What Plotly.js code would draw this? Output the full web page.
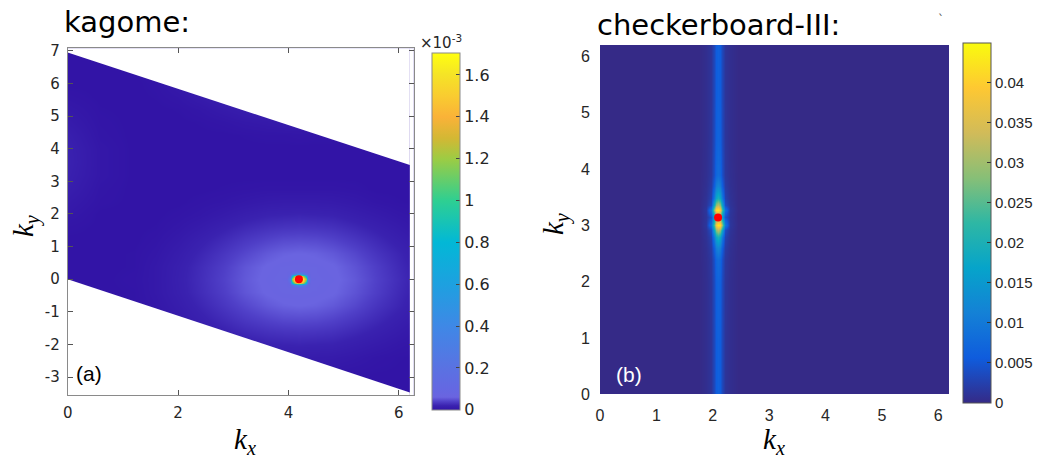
<!DOCTYPE html>
<html>
<head>
<meta charset="utf-8">
<script src="https://cdn.plot.ly/plotly-3.0.1.min.js"></script>
<style>html,body{margin:0;padding:0;background:#fff;}#chart{width:1039px;height:460px;}</style>
</head>
<body>
<div id="chart"></div>
<script>
// ---------------- data ----------------
// (a) kagome: intensity in units of 1e-3
const kagomeKx = [0, 0.6, 1.2, 1.6, 2.0, 2.4, 2.8, 3.2, 3.6, 3.9, 4.19, 4.5, 4.8, 5.2, 5.6, 6.0, 6.4];
const kagomeKy = [-3.8, -3.0, -2.4, -2.0, -1.6, -1.2, -0.8, -0.4, 0, 0.4, 0.8, 1.2, 1.6, 2.0, 2.4, 2.8, 3.2, 3.6, 4.0, 4.4, 4.8, 5.2, 5.6, 6.0, 6.6, 7.2];
const kagomeZ = [
  [0,0,0,0,0,0,0,0,0,0,0,0,0,0,0,0,0],
  [0,0,0,0,0,0,0,0,0.001,0.002,0.002,0.002,0.001,0,0,0,0],
  [0,0,0,0,0,0.002,0.004,0.007,0.010,0.011,0.011,0.011,0.010,0.007,0.003,0.001,0],
  [0,0,0,0,0.002,0.005,0.010,0.016,0.020,0.021,0.022,0.021,0.020,0.015,0.010,0.005,0.002],
  [0,0,0,0.001,0.005,0.011,0.019,0.026,0.031,0.033,0.034,0.033,0.031,0.025,0.018,0.011,0.004],
  [0,0,0,0.003,0.009,0.018,0.027,0.036,0.043,0.047,0.048,0.047,0.043,0.035,0.026,0.017,0.009],
  [0,0,0.001,0.005,0.013,0.023,0.034,0.045,0.055,0.060,0.062,0.060,0.055,0.045,0.033,0.023,0.012],
  [0,0,0.001,0.007,0.016,0.027,0.039,0.053,0.063,0.067,0.068,0.066,0.063,0.052,0.039,0.026,0.015],
  [0,0,0.002,0.007,0.017,0.028,0.041,0.055,0.065,0.069,0.070,0.068,0.065,0.055,0.041,0.028,0.016],
  [0,0,0.001,0.007,0.016,0.027,0.039,0.053,0.063,0.067,0.068,0.066,0.063,0.052,0.039,0.026,0.015],
  [0,0,0.001,0.005,0.013,0.023,0.034,0.045,0.055,0.060,0.062,0.060,0.055,0.045,0.033,0.023,0.012],
  [0,0,0,0.003,0.009,0.018,0.027,0.036,0.043,0.047,0.048,0.047,0.043,0.035,0.026,0.017,0.009],
  [0.002,0,0,0.001,0.005,0.011,0.019,0.026,0.031,0.033,0.034,0.033,0.031,0.025,0.018,0.011,0.004],
  [0.006,0,0,0,0.002,0.005,0.010,0.016,0.020,0.021,0.022,0.021,0.020,0.015,0.010,0.005,0.002],
  [0.010,0.002,0,0,0,0.002,0.004,0.007,0.010,0.011,0.011,0.011,0.010,0.007,0.003,0.001,0],
  [0.015,0.003,0,0,0,0,0.001,0.002,0.003,0.003,0.003,0.003,0.003,0.002,0,0,0],
  [0.018,0.005,0,0,0,0,0,0,0,0,0,0,0,0,0,0,0],
  [0.020,0.005,0,0,0,0,0,0,0,0,0,0,0,0,0,0,0],
  [0.019,0.005,0,0,0,0,0,0,0,0,0,0,0,0,0,0,0],
  [0.016,0.003,0,0,0,0,0,0.001,0.002,0.002,0.003,0.002,0.002,0.001,0,0,0],
  [0.011,0.002,0,0,0,0.001,0.003,0.006,0.008,0.010,0.010,0.010,0.008,0.006,0.003,0.001,0],
  [0.007,0.001,0,0,0.001,0.004,0.009,0.014,0.018,0.020,0.020,0.020,0.018,0.014,0.009,0.004,0.001],
  [0.003,0,0,0.001,0.004,0.010,0.017,0.024,0.029,0.031,0.032,0.031,0.029,0.024,0.017,0.010,0.004],
  [0,0,0,0.002,0.008,0.017,0.026,0.034,0.041,0.045,0.046,0.045,0.041,0.034,0.025,0.016,0.008],
  [0,0,0.001,0.005,0.014,0.025,0.036,0.048,0.059,0.063,0.064,0.063,0.059,0.048,0.036,0.025,0.014],
  [0,0,0.002,0.007,0.017,0.028,0.041,0.055,0.065,0.069,0.070,0.068,0.065,0.055,0.041,0.028,0.016]
];
// sharp peak around the K point (units 1e-3)
const kagomePeakKx = [3.89, 3.98, 4.03, 4.07, 4.11, 4.15, 4.19, 4.23, 4.27, 4.31, 4.35, 4.40, 4.49];
const kagomePeakKy = [-0.34, -0.26, -0.16, -0.10, -0.05, 0, 0.05, 0.10, 0.16, 0.26, 0.34];
const kagomePeakZ = [
  [0.07,0.07,0.07,0.07,0.07,0.07,0.07,0.07,0.07,0.07,0.07,0.07,0.07],
  [0.07,0.07,0.07,0.07,0.07,0.07,0.07,0.07,0.07,0.07,0.07,0.07,0.07],
  [0.07,0.07,0.08,0.18,0.30,0.38,0.40,0.38,0.30,0.18,0.08,0.07,0.07],
  [0.07,0.07,0.12,0.75,1.25,1.45,1.50,1.45,1.25,0.75,0.12,0.07,0.07],
  [0.07,0.07,0.20,1.05,1.58,1.66,1.68,1.66,1.58,1.05,0.20,0.07,0.07],
  [0.07,0.08,0.25,1.20,1.65,1.69,1.70,1.69,1.65,1.20,0.25,0.08,0.07],
  [0.07,0.07,0.20,1.05,1.58,1.66,1.68,1.66,1.58,1.05,0.20,0.07,0.07],
  [0.07,0.07,0.12,0.75,1.25,1.45,1.50,1.45,1.25,0.75,0.12,0.07,0.07],
  [0.07,0.07,0.08,0.18,0.30,0.38,0.40,0.38,0.30,0.18,0.08,0.07,0.07],
  [0.07,0.07,0.07,0.07,0.07,0.07,0.07,0.07,0.07,0.07,0.07,0.07,0.07],
  [0.07,0.07,0.07,0.07,0.07,0.07,0.07,0.07,0.07,0.07,0.07,0.07,0.07]
];
// Brillouin-zone parallelogram edges
const bzEdgeKx = [0, 6.2];
const bzLowerKy = [0, -3.47];
const bzUpperKy = [6.95, 3.5];
const kagomeDotKx = [4.19];
const kagomeDotKy = [0];

// (b) checkerboard-III
const checkerKx = [0, 1.75, 1.88, 1.97, 2.02, 2.055, 2.094, 2.135, 2.17, 2.22, 2.31, 2.44, 6.3];
const checkerKy = [0, 1.0, 2.0, 2.4, 2.6, 2.8, 2.92, 3.0, 3.07, 3.14, 3.21, 3.28, 3.36, 3.48, 3.7, 3.9, 4.5, 5.3, 6.3];
const checkerZ = [
  [0,0,0.0005,0.0012,0.0034,0.0058,0.0065,0.0058,0.0034,0.0012,0.0005,0,0],
  [0,0,0.0005,0.0012,0.0034,0.0058,0.0065,0.0058,0.0034,0.0012,0.0005,0,0],
  [0,0,0.0005,0.0013,0.0036,0.0062,0.0070,0.0062,0.0036,0.0013,0.0005,0,0],
  [0,0,0.0006,0.0015,0.0042,0.0072,0.0082,0.0072,0.0042,0.0015,0.0006,0,0],
  [0,0,0.0007,0.0019,0.0060,0.0105,0.0120,0.0105,0.0060,0.0019,0.0007,0,0],
  [0,0,0.0009,0.0026,0.0100,0.0175,0.0200,0.0175,0.0100,0.0026,0.0009,0,0],
  [0,0,0.0011,0.0040,0.0170,0.0285,0.0320,0.0290,0.0180,0.0040,0.0011,0,0],
  [0,0,0.0014,0.0085,0.0240,0.0390,0.0430,0.0420,0.0290,0.0095,0.0014,0,0],
  [0,0,0.0013,0.0065,0.0200,0.0320,0.0360,0.0340,0.0230,0.0075,0.0013,0,0],
  [0,0,0.0012,0.0045,0.0160,0.0260,0.0300,0.0260,0.0160,0.0045,0.0012,0,0],
  [0,0,0.0013,0.0075,0.0230,0.0340,0.0360,0.0320,0.0200,0.0065,0.0013,0,0],
  [0,0,0.0014,0.0095,0.0290,0.0420,0.0430,0.0390,0.0240,0.0085,0.0014,0,0],
  [0,0,0.0011,0.0040,0.0180,0.0290,0.0320,0.0285,0.0170,0.0040,0.0011,0,0],
  [0,0,0.0009,0.0026,0.0100,0.0175,0.0200,0.0175,0.0100,0.0026,0.0009,0,0],
  [0,0,0.0007,0.0019,0.0060,0.0105,0.0120,0.0105,0.0060,0.0019,0.0007,0,0],
  [0,0,0.0006,0.0015,0.0042,0.0072,0.0082,0.0072,0.0042,0.0015,0.0006,0,0],
  [0,0,0.0005,0.0013,0.0036,0.0062,0.0070,0.0062,0.0036,0.0013,0.0005,0,0],
  [0,0,0.0005,0.0012,0.0034,0.0058,0.0065,0.0058,0.0034,0.0012,0.0005,0,0],
  [0,0,0.0005,0.0012,0.0034,0.0058,0.0065,0.0058,0.0034,0.0012,0.0005,0,0]
];
const checkerDotKx = [2.094];
const checkerDotKy = [3.14];

// ticks
const kagomeXTicks = [0, 2, 4, 6];
const kagomeYTicks = [-3, -2, -1, 0, 1, 2, 3, 4, 5, 6, 7];
const kagomeYLabels = ['-3', '-2', '-1', '0', '1', '2', '3', '4', '5', '6', '7'];
const checkerTicks = [0, 1, 2, 3, 4, 5, 6];
const kagomeCbTicks = [0, 0.2, 0.4, 0.6, 0.8, 1, 1.2, 1.4, 1.6];
const kagomeCbLabels = ['0', '0.2', '0.4', '0.6', '0.8', '1', '1.2', '1.4', '1.6'];
const checkerCbTicks = [0, 0.005, 0.01, 0.015, 0.02, 0.025, 0.03, 0.035, 0.04];
const checkerCbLabels = ['0', '0.005', '0.01', '0.015', '0.02', '0.025', '0.03', '0.035', '0.04'];

// ---------------- styling ----------------
const W = 1039, H = 460;
const kagomeRangeX = [0, 6.27], kagomeRangeY = [-3.55, 7.08];
const checkerRangeX = [0, 6.19], checkerRangeY = [0, 6.2];
const kagomeZmax = 1.706, checkerZmax = 0.045;

const kagomeScale = [
  [0, '#3214a6'], [0.012, '#3a22b0'], [0.024, '#5040c8'], [0.036, '#6a64e0'],
  [0.06, '#6468e2'], [0.117, '#5a72e2'], [0.234, '#3f88e6'], [0.35, '#1ea0e0'],
  [0.47, '#02b8d6'], [0.586, '#2ecf92'], [0.703, '#9ccc44'], [0.76, '#d2b834'],
  [0.82, '#fab238'], [0.88, '#f9cc30'], [0.94, '#f5e426'], [1, '#ffff10']
];
const parula = [
  [0, '#352A87'], [0.125, '#0F5CDD'], [0.25, '#1481D6'], [0.375, '#06A4CA'],
  [0.5, '#2EB7A4'], [0.625, '#87BF77'], [0.75, '#D1BB59'], [0.875, '#FEC832'], [1, '#F9FB0E']
];

function px(x) { return x / W; }
function py(y) { return 1 - y / H; }

const maskStyle = {type: 'scatter', mode: 'lines', fill: 'toself', fillcolor: '#ffffff',
  line: {width: 0, color: 'rgba(0,0,0,0)'}, hoverinfo: 'skip', showlegend: false, xaxis: 'x', yaxis: 'y'};
const yLo = kagomeRangeY[0] - 1, yHi = kagomeRangeY[1] + 1, xHi = kagomeRangeX[1] + 1;

const traces = [
  {type: 'heatmap', x: kagomeKx, y: kagomeKy, z: kagomeZ, zsmooth: 'best',
   zmin: 0, zmax: kagomeZmax, colorscale: kagomeScale, xaxis: 'x', yaxis: 'y', hoverinfo: 'skip',
   colorbar: {x: px(431.7), xanchor: 'left', xpad: 0, ypad: 0, y: py(231.3), yanchor: 'middle',
     len: (410 - 52.7) / H, lenmode: 'fraction', thickness: 27.6, thicknessmode: 'pixels',
     outlinewidth: 1, outlinecolor: '#8a8a8a', tickmode: 'array', tickvals: kagomeCbTicks,
     ticktext: kagomeCbLabels, ticks: 'inside', ticklen: 4, tickcolor: '#444',
     tickfont: {family: 'DejaVu Sans', size: 16, color: '#262626'}}},
  {type: 'heatmap', x: kagomePeakKx, y: kagomePeakKy, z: kagomePeakZ, zsmooth: 'best',
   zmin: 0, zmax: kagomeZmax, colorscale: kagomeScale, showscale: false, xaxis: 'x', yaxis: 'y', hoverinfo: 'skip'},
  Object.assign({}, maskStyle, {x: [bzEdgeKx[0], bzEdgeKx[1], bzEdgeKx[1], bzEdgeKx[0]],
    y: [bzLowerKy[0], bzLowerKy[1], yLo, yLo]}),
  Object.assign({}, maskStyle, {x: [bzEdgeKx[0], bzEdgeKx[1], bzEdgeKx[1], bzEdgeKx[0]],
    y: [bzUpperKy[0], bzUpperKy[1], yHi, yHi]}),
  Object.assign({}, maskStyle, {x: [bzEdgeKx[1], xHi, xHi, bzEdgeKx[1]], y: [yLo, yLo, yHi, yHi]}),
  {type: 'scatter', mode: 'markers', x: kagomeDotKx, y: kagomeDotKy, xaxis: 'x', yaxis: 'y',
   marker: {color: '#ff0000', size: 8, line: {width: 0}}, showlegend: false, hoverinfo: 'skip'},

  {type: 'heatmap', x: checkerKx, y: checkerKy, z: checkerZ, zsmooth: 'best',
   zmin: 0, zmax: checkerZmax, colorscale: parula, xaxis: 'x2', yaxis: 'y2', hoverinfo: 'skip',
   colorbar: {x: px(962.7), xanchor: 'left', xpad: 0, ypad: 0, y: py(222.6), yanchor: 'middle',
     len: (402.5 - 42.7) / H, lenmode: 'fraction', thickness: 28.3, thicknessmode: 'pixels',
     outlinewidth: 1, outlinecolor: '#555', tickmode: 'array', tickvals: checkerCbTicks,
     ticktext: checkerCbLabels, ticks: 'inside', ticklen: 4, tickcolor: '#333',
     tickfont: {family: 'Liberation Sans', size: 15, color: '#262626'}}},
  {type: 'scatter', mode: 'markers', x: checkerDotKx, y: checkerDotKy, xaxis: 'x2', yaxis: 'y2',
   marker: {color: '#ff0000', size: 8, line: {width: 0}}, showlegend: false, hoverinfo: 'skip'}
];

const axisCommonA = {showgrid: false, zeroline: false, showline: true, linecolor: '#8a8a8a', linewidth: 1,
  mirror: 'ticks', ticks: 'inside', ticklen: 5, tickcolor: '#555', tickwidth: 1,
  tickfont: {family: 'DejaVu Sans', size: 15, color: '#262626'}, fixedrange: true};
const axisCommonB = {showgrid: false, zeroline: false, showline: false,
  ticks: 'outside', ticklen: 6, tickcolor: 'rgba(0,0,0,0)',
  tickfont: {family: 'Liberation Sans', size: 16, color: '#262626'}, fixedrange: true};

const kFont = {family: 'Liberation Serif', size: 29, color: '#000'};
const kx = '<i>k</i><sub><i>x</i></sub>';
const ky = '<i>k</i><sub><i>y</i></sub>';

const layout = {
  width: W, height: H, margin: {l: 0, r: 0, t: 0, b: 0, pad: 0},
  paper_bgcolor: '#ffffff', plot_bgcolor: '#ffffff', showlegend: false,
  xaxis: Object.assign({}, axisCommonA, {domain: [px(67.7), px(413.7)], range: kagomeRangeX,
    tickmode: 'array', tickvals: kagomeXTicks, anchor: 'y', ticklabelstandoff: 4}),
  yaxis: Object.assign({}, axisCommonA, {domain: [py(395), py(48.3)], range: kagomeRangeY,
    tickmode: 'array', tickvals: kagomeYTicks, ticktext: kagomeYLabels, anchor: 'x', ticklabelstandoff: 4}),
  xaxis2: Object.assign({}, axisCommonB, {domain: [px(600), px(949)], range: checkerRangeX,
    tickmode: 'array', tickvals: checkerTicks, anchor: 'y2'}),
  yaxis2: Object.assign({}, axisCommonB, {domain: [py(394.3), py(45)], range: checkerRangeY,
    tickmode: 'array', tickvals: checkerTicks, anchor: 'x2'}),
  annotations: [
    {text: 'kagome:', xref: 'paper', yref: 'paper', x: px(62), y: py(21.7), xanchor: 'left', yanchor: 'middle',
     showarrow: false, font: {family: 'DejaVu Sans', size: 29, color: '#000'}},
    {text: 'checkerboard-III:', xref: 'paper', yref: 'paper', x: px(595), y: py(25), xanchor: 'left', yanchor: 'middle',
     showarrow: false, font: {family: 'DejaVu Sans', size: 29, color: '#000'}},
    {text: '`', xref: 'paper', yref: 'paper', x: px(941), y: py(20), xanchor: 'center', yanchor: 'middle',
     showarrow: false, font: {family: 'DejaVu Sans', size: 12, color: '#555'}},
    {text: '\u00d710<sup>-3</sup>', xref: 'paper', yref: 'paper', x: px(441), y: py(42), xanchor: 'center', yanchor: 'middle',
     showarrow: false, font: {family: 'DejaVu Sans', size: 15, color: '#262626'}},
    {text: kx, xref: 'paper', yref: 'paper', x: px(245), y: py(440.5), xanchor: 'center', yanchor: 'middle',
     showarrow: false, font: kFont},
    {text: kx, xref: 'paper', yref: 'paper', x: px(774), y: py(440.5), xanchor: 'center', yanchor: 'middle',
     showarrow: false, font: kFont},
    {text: ky, xref: 'paper', yref: 'paper', x: px(25), y: py(226), xanchor: 'center', yanchor: 'middle',
     textangle: -90, showarrow: false, font: kFont},
    {text: ky, xref: 'paper', yref: 'paper', x: px(555), y: py(224), xanchor: 'center', yanchor: 'middle',
     textangle: -90, showarrow: false, font: kFont},
    {text: '(a)', xref: 'paper', yref: 'paper', x: px(88.5), y: py(373), xanchor: 'center', yanchor: 'middle',
     showarrow: false, font: {family: 'Liberation Sans', size: 21, color: '#000'}},
    {text: '(b)', xref: 'paper', yref: 'paper', x: px(629.5), y: py(374), xanchor: 'center', yanchor: 'middle',
     showarrow: false, font: {family: 'Liberation Sans', size: 21, color: '#ffffff'}}
  ]
};

Plotly.newPlot('chart', traces, layout, {staticPlot: true, displayModeBar: false});
</script>
</body>
</html>
